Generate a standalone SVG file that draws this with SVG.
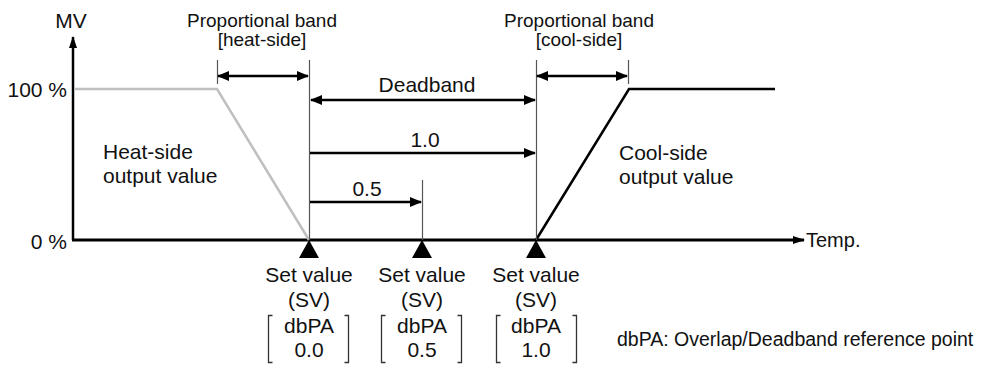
<svg xmlns="http://www.w3.org/2000/svg" width="984" height="365" viewBox="0 0 984 365">
<style>
text{font-family:"Liberation Sans",Arial,sans-serif;font-size:21px;fill:#111}
.sm{font-size:19px}
.c{text-anchor:middle}
.e{text-anchor:end}
.ref{stroke:#555;stroke-width:1.2;fill:none}
.arr{stroke:#000;stroke-width:2.5;fill:none}
.br{stroke:#333;stroke-width:1.3;fill:none}
</style>
<defs>
<marker id="ah" viewBox="0 0 12 10" refX="11" refY="5" markerWidth="12" markerHeight="10" markerUnits="userSpaceOnUse" orient="auto-start-reverse"><path d="M0,0L12,5L0,10z" fill="#000"/></marker>
<marker id="axh" viewBox="0 0 12 8" refX="11" refY="4" markerWidth="12" markerHeight="8" markerUnits="userSpaceOnUse" orient="auto"><path d="M0,0L12,4L0,8z" fill="#000"/></marker>
<path id="tri" d="M-10,18L0,0L10,18z" fill="#000"/>
<path id="brk" d="M-36,0H-40V47H-36M36,0H40V47H36" class="br"/>
</defs>

<g id="axes">
<line x1="73" y1="240" x2="73" y2="37" stroke="#000" stroke-width="2.5" marker-end="url(#axh)"/>
<line x1="72" y1="240" x2="804" y2="240" stroke="#000" stroke-width="3" marker-end="url(#axh)"/>
<text x="71" y="28" class="c">MV</text>
<text x="67" y="97" class="e">100 %</text>
<text x="67" y="249" class="e">0 %</text>
<text x="806" y="247" style="font-size:20px">Temp.</text>
</g>

<g id="heat-output">
<polyline points="74,89 217,89 309,240" fill="none" stroke="#c0c0c0" stroke-width="2.5"/>
<text x="103" y="159">Heat-side</text>
<text x="103" y="183">output value</text>
</g>

<g id="cool-output">
<polyline points="536,240 629,89 775,89" fill="none" stroke="#000" stroke-width="2.5"/>
<text x="619" y="160">Cool-side</text>
<text x="619" y="184">output value</text>
</g>

<g id="reference-lines">
<line x1="309.5" y1="60" x2="309.5" y2="240" class="ref"/>
<line x1="536.5" y1="60" x2="536.5" y2="240" class="ref"/>
<line x1="217.5" y1="60" x2="217.5" y2="84" class="ref"/>
<line x1="628.5" y1="60" x2="628.5" y2="84" class="ref"/>
<line x1="422.5" y1="180" x2="422.5" y2="240" class="ref"/>
</g>

<g id="connectors">
<line x1="218" y1="76" x2="308" y2="76" class="arr" marker-start="url(#ah)" marker-end="url(#ah)"/>
<line x1="311" y1="100" x2="535" y2="100" class="arr" marker-start="url(#ah)" marker-end="url(#ah)"/>
<line x1="537" y1="76" x2="627" y2="76" class="arr" marker-start="url(#ah)" marker-end="url(#ah)"/>
<line x1="310" y1="153" x2="535" y2="153" class="arr" marker-end="url(#ah)"/>
<line x1="310" y1="202" x2="421" y2="202" class="arr" marker-end="url(#ah)"/>
</g>

<g id="band-heat">
<text x="262" y="27" class="c sm">Proportional band</text>
<text x="262" y="46" class="c sm">[heat-side]</text>
</g>
<g id="band-cool">
<text x="579" y="27" class="c sm">Proportional band</text>
<text x="579" y="46" class="c sm">[cool-side]</text>
</g>
<g id="deadband"><text x="427" y="92" class="c">Deadband</text></g>
<g id="label-1-0"><text x="425" y="147" class="c">1.0</text></g>
<g id="label-0-5"><text x="367" y="196" class="c">0.5</text></g>

<g id="sv-0-0">
<use href="#tri" x="309" y="240"/>
<text x="309" y="282" class="c">Set value</text>
<text x="309" y="307" class="c">(SV)</text>
<use href="#brk" x="308.5" y="315.5"/>
<text x="309" y="333" class="c">dbPA</text>
<text x="309" y="357" class="c">0.0</text>
</g>
<g id="sv-0-5">
<use href="#tri" x="422" y="240"/>
<text x="422" y="282" class="c">Set value</text>
<text x="422" y="307" class="c">(SV)</text>
<use href="#brk" x="421.5" y="315.5"/>
<text x="422" y="333" class="c">dbPA</text>
<text x="422" y="357" class="c">0.5</text>
</g>
<g id="sv-1-0">
<use href="#tri" x="536" y="240"/>
<text x="536" y="282" class="c">Set value</text>
<text x="536" y="307" class="c">(SV)</text>
<use href="#brk" x="536.5" y="315.5"/>
<text x="536" y="333" class="c">dbPA</text>
<text x="536" y="357" class="c">1.0</text>
</g>

<g id="note"><text x="617" y="346" style="font-size:19.5px">dbPA: Overlap/Deadband reference point</text></g>
</svg>
